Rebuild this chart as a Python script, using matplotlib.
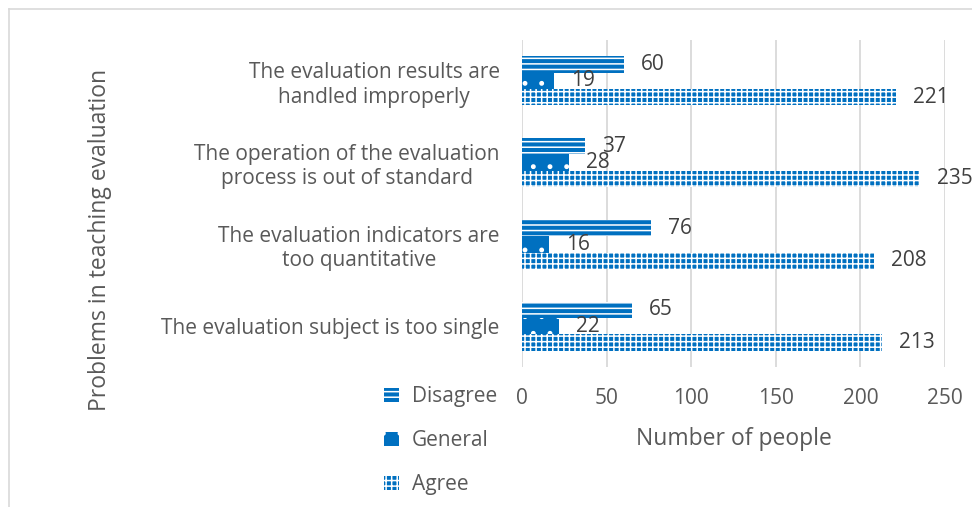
import matplotlib
matplotlib.use("Agg")
import matplotlib.pyplot as plt
from matplotlib.patches import Patch
from matplotlib.lines import Line2D
import numpy as np

plt.rcParams['font.family'] = ['Open Sans', 'DejaVu Sans']
plt.rcParams['hatch.linewidth'] = 1.1

categories = ["The evaluation subject is too single",
              "The evaluation indicators are\ntoo quantitative",
              "The operation of the evaluation\nprocess is out of standard",
              "The evaluation results are\nhandled improperly"]
disagree = [65, 76, 37, 60]
general = [22, 16, 28, 19]
agree = [213, 208, 235, 221]
series_names = ["Disagree", "General", "Agree"]
xticks = [0, 50, 100, 150, 200, 250]

blue = "#0070C0"
txt = "#595959"
val_txt = "#404040"
hatches = {"Disagree": "---", "General": ".", "Agree": "+++"}

fig = plt.figure(figsize=(9.72, 5.07), dpi=100)
ax = fig.add_axes([522/972, 1-367/507, (945-522)/972, (367-40)/507])

y = np.arange(len(categories))
h = 0.2
offs = {"Disagree": h, "General": 0.0, "Agree": -h}
data = {"Disagree": disagree, "General": general, "Agree": agree}

for name in series_names:
    vals = data[name]
    bars = ax.barh(y + offs[name], vals, height=h, color=blue, edgecolor="white",
                   linewidth=0, hatch=hatches[name], zorder=3)
    for b, v in zip(bars, vals):
        ax.annotate(str(v), (b.get_width(), b.get_y() + b.get_height()/2),
                    xytext=(17, 0), textcoords="offset pixels",
                    va="center", ha="left", fontsize=15, color=val_txt)

ax.set_xlim(0, 250)
ax.set_ylim(-0.5, 3.5)
ax.set_xticks(xticks)
ax.set_xticklabels([str(t) for t in xticks])
ax.set_yticks(y)
ax.set_yticklabels(categories, multialignment="center")
ax.tick_params(axis="both", length=0, labelsize=15, labelcolor=txt)
ax.tick_params(axis="x", pad=15)
ax.tick_params(axis="y", pad=16)
ax.grid(axis="x", color="#D9D9D9", linewidth=1.3, zorder=0)
for s in ax.spines.values():
    s.set_visible(False)
ax.set_xlabel("Number of people", fontsize=16.5, color=txt, labelpad=13)
fig.text(100/972, 1-240/507, "Problems in teaching evaluation", rotation=90,
         fontsize=16.5, color=txt, ha="center", va="center")

handles = [Patch(facecolor=blue, edgecolor="white", linewidth=0, hatch=hatches[n]) for n in series_names]
fig.legend(handles, series_names, loc="upper left", bbox_to_anchor=(374/972, 1-376/507),
           frameon=False, fontsize=15, labelcolor=txt, handlelength=0.7, handleheight=0.7,
           handletextpad=0.6, labelspacing=1.1, borderpad=0)

fig.add_artist(Line2D([9/972, 9/972], [0, 1-9/507], color="#D9D9D9", linewidth=1.2))
fig.add_artist(Line2D([9/972, 1], [1-9/507, 1-9/507], color="#D9D9D9", linewidth=1.2))

fig.savefig("out.png", dpi=100)
